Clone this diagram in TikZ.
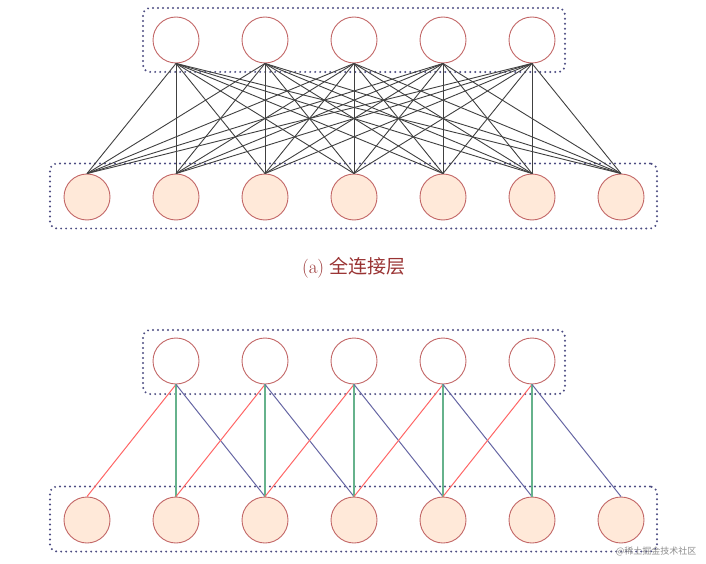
\documentclass[tikz,border=0pt]{standalone}
\usepackage{fontspec}
\newfontfamily\cjk{Noto Sans CJK SC}
\begin{document}
\begin{tikzpicture}[x=1pt,y=-1pt,
  unit/.style={circle,draw=red!60!black!60,line width=0.9pt,minimum size=46pt,inner sep=0pt},
  inunit/.style={unit,fill=red!15!orange!15},
  grp/.style={draw=blue!30!black!70,line cap=round,dash pattern=on 0pt off 5pt,line width=2.2pt,rounded corners=7pt},
  fc/.style={black!75,line width=0.9pt},
  rl/.style={red!60!white,line width=1pt},
  gl/.style={green!50!cyan!50!black!60,line width=1.3pt},
  bl/.style={blue!40!black!60,line width=1pt}]
\useasboundingbox (0,0) rectangle (706,564);
% part (a)
\node[grp,minimum width=422pt,minimum height=64pt] (ta) at (354,40) {};
\node[grp,minimum width=607pt,minimum height=65pt] (ba) at (353.5,196) {};
\foreach \i in {1,...,5}{\node[unit] (a\i) at (87+89*\i,40) {};}
\foreach \j in {1,...,7}{\node[inunit] (b\j) at (-2+89*\j,197) {};}
\foreach \i in {1,...,5}{\foreach \j in {1,...,7}{\draw[fc] (a\i.south) -- (b\j.north);}}
\node[text=red!50!black!80,font=\fontsize{19}{22}\selectfont] (lab) at (354,268) {(a) {\cjk 全连接层}};
% part (b)
\node[grp,minimum width=422pt,minimum height=64pt] (tb) at (354,362) {};
\node[grp,minimum width=607pt,minimum height=65pt] (bb) at (353.5,519) {};
\foreach \i in {1,...,5}{\node[unit] (c\i) at (87+89*\i,361) {};}
\foreach \j in {1,...,7}{\node[inunit] (d\j) at (-2+89*\j,520) {};}
\foreach \i [evaluate=\i as \l using int(\i), evaluate=\i as \m using int(\i+1), evaluate=\i as \r using int(\i+2)] in {1,...,5}{
  \draw[rl] (c\i.south) -- (d\l.north);
  \draw[gl] (c\i.south) -- (d\m.north);
  \draw[bl] (c\i.south) -- (d\r.north);}
\node[text=black!45,font=\cjk\small,anchor=east] (wm) at (700,551) {@稀土掘金技术社区};
\end{tikzpicture}
\end{document}
